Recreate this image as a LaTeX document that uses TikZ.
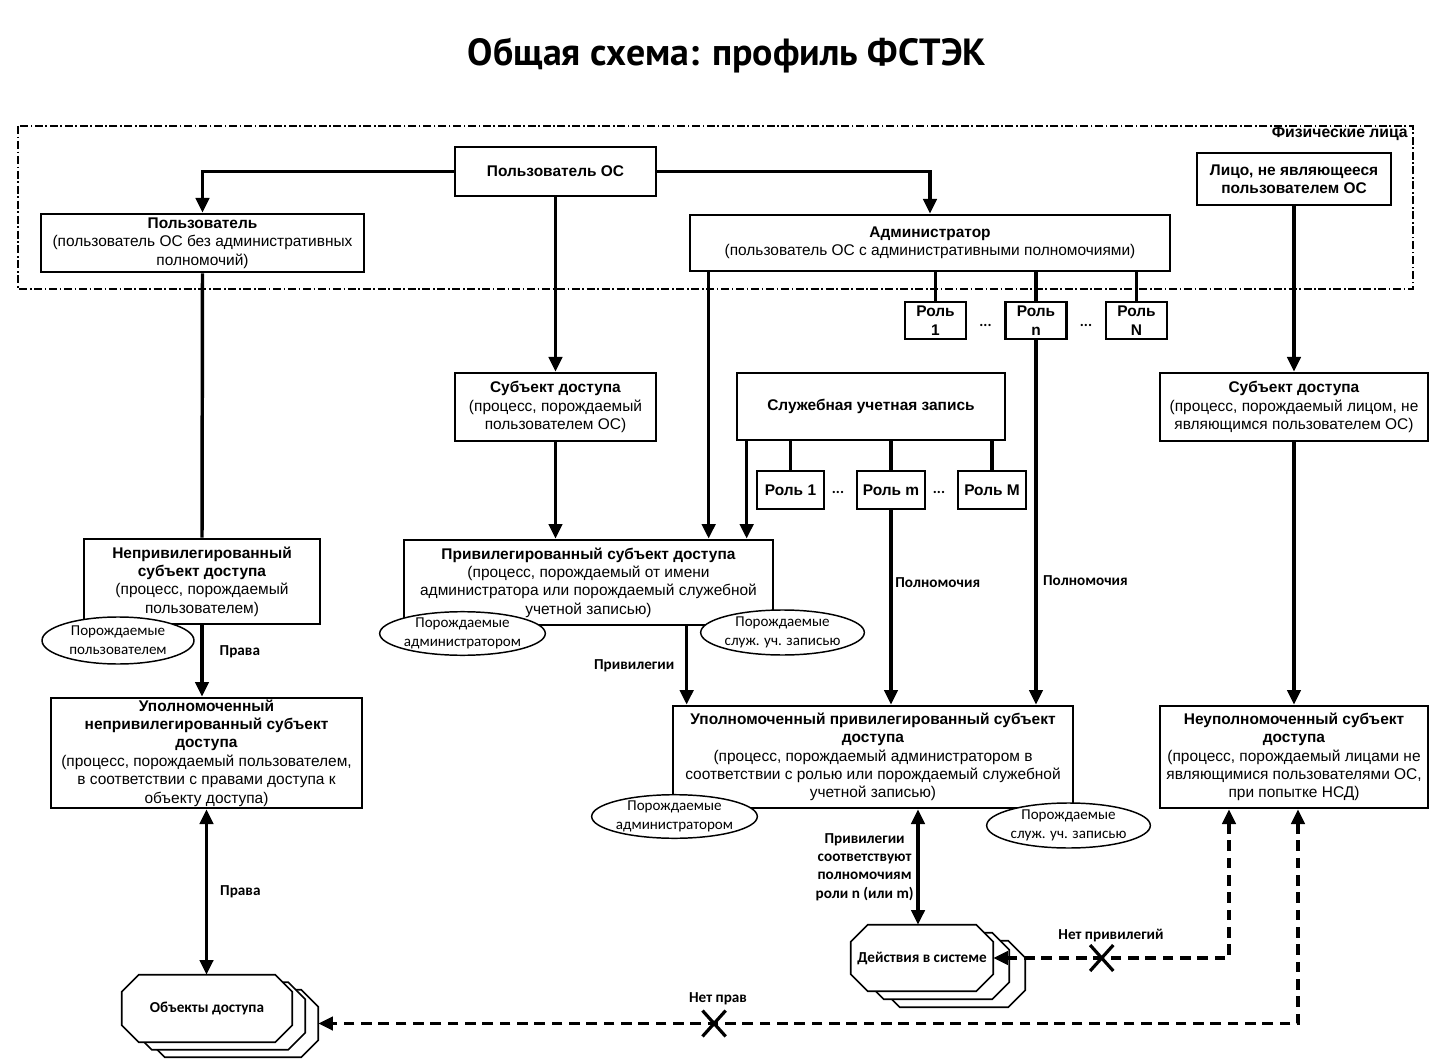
\documentclass[tikz,border=0pt]{standalone}
\usepackage{fontspec}
\setmainfont{Liberation Sans}
\newfontfamily\carlito{Carlito}
\newfontfamily\ptsans{PT Sans}
\usetikzlibrary{arrows.meta,calc,positioning,shapes.geometric,shapes.misc}
\pgfdeclarelayer{bg}
\pgfsetlayers{bg,main}

% octagon drawn round a named node (chamfer 17 units)
\newcommand\octdraw[1]{%
  \filldraw[octline] ($(#1.north west)+(17,0)$) -- ($(#1.north east)+(-17,0)$)
    -- ($(#1.north east)+(0,17)$) -- ($(#1.south east)+(0,-17)$)
    -- ($(#1.south east)+(-17,0)$) -- ($(#1.south west)+(17,0)$)
    -- ($(#1.south west)+(0,-17)$) -- ($(#1.north west)+(0,17)$) -- cycle;}

\begin{document}
\begin{tikzpicture}[x=0.75pt,y=-0.75pt,
  box/.style={draw,line width=2pt,fill=white,align=center,inner sep=0pt,
    font=\fontsize{11.6}{13.8}\selectfont},
  bsize/.style 2 args={minimum width=#1*0.75pt,minimum height=#2*0.75pt},
  ell/.style={ellipse,draw,line width=1.1pt,fill=white,align=center,inner sep=0pt,
    font=\carlito\fontsize{11.3}{14}\selectfont},
  octbox/.style={inner sep=0pt,font=\carlito\bfseries\fontsize{11.4}{13}\selectfont},
  octline/.style={draw=black,fill=white,line width=1.2pt},
  lbl/.style={font=\carlito\bfseries\fontsize{11.4}{13.8}\selectfont,align=center,inner sep=0pt},
  link/.style={line width=2.6pt},
  arr/.style={line width=2.6pt,-{Triangle[length=11pt,width=10pt]}},
  dblarr/.style={line width=2.6pt,{Triangle[length=11pt,width=10pt]}-{Triangle[length=11pt,width=10pt]}},
  nodbl/.style={line width=2.6pt,dash pattern=on 8pt off 5pt,
    {Triangle[length=11pt,width=10pt]}-{Triangle[length=11pt,width=10pt]}},
  xmark/.style={cross out,draw,solid,line width=2.4pt,minimum width=15pt,minimum height=17pt,inner sep=0pt},
  frame/.style={line width=0.9pt,dash pattern=on 6pt off 2pt on 1.2pt off 2pt}]

\begin{pgfonlayer}{bg}
\fill[white] (0,0) rectangle (1446,1062);
\end{pgfonlayer}
\useasboundingbox (0,0) rectangle (1446,1062);

\node[font=\ptsans\bfseries\fontsize{28.4}{32}\selectfont] (title) at (727,56) {Общая схема: профиль ФСТЭК};

% physical persons
\draw[frame] (18,126) rectangle (1413,289);
\node[font=\bfseries\fontsize{11.8}{13}\selectfont,anchor=east,inner sep=0pt] (physLbl) at (1408,134) {Физические лица};

\node[box,bsize={201}{49}] (userOS) at (555.5,171.5) {\textbf{Пользователь ОС}};
\node[box,bsize={323}{58}] (user) at (202.5,243) {\textbf{Пользователь}\\(пользователь ОС без административных\\полномочий)};
\node[box,bsize={480}{56}] (admin) at (930,243) {\textbf{Администратор}\\(пользователь ОС с административными полномочиями)};
\node[box,bsize={194}{52}] (person) at (1294,179) {\textbf{Лицо, не являющееся}\\\textbf{пользователем ОС}};

% roles of the administrator
\node[box,bsize={61}{37}] (r1) at (935.5,320.5) {\textbf{Роль}\\\textbf{1}};
\node[box,bsize={61}{37}] (rn) at (1036,320.5) {\textbf{Роль}\\\textbf{n}};
\node[box,bsize={61}{37}] (rN) at (1136.5,320.5) {\textbf{Роль}\\\textbf{N}};
\node[lbl] (rdots1) at (985.5,325) {...};
\node[lbl] (rdots2) at (1086,325) {...};

\node[box,bsize={201}{68}] (subj) at (555.5,407) {\textbf{Субъект доступа}\\(процесс, порождаемый\\пользователем ОС)};
\node[box,bsize={268}{67}] (service) at (871,406.5) {\textbf{Служебная учетная запись}};
\node[box,bsize={268}{68}] (personSubj) at (1294,407) {\textbf{Субъект доступа}\\(процесс, порождаемый лицом, не\\являющимся пользователем ОС)};

% roles of the service account
\node[box,bsize={67}{38}] (m1) at (790.5,490) {\textbf{Роль 1}};
\node[box,bsize={68}{38}] (mm) at (891,490) {\textbf{Роль m}};
\node[box,bsize={68}{38}] (mM) at (992,490) {\textbf{Роль M}};
\node[lbl] (mdots1) at (838,492) {...};
\node[lbl] (mdots2) at (939,492) {...};

\node[box,bsize={236}{85}] (unpriv) at (202,581.5) {\textbf{Непривилегированный}\\\textbf{субъект доступа}\\(процесс, порождаемый\\пользователем)};
\node[box,bsize={369}{85}] (priv) at (588.5,582.5) {\textbf{Привилегированный субъект доступа}\\(процесс, порождаемый от имени\\администратора или порождаемый служебной\\учетной записью)};

\node[box,bsize={311}{110}] (authUnpriv) at (206.5,753) {\textbf{Уполномоченный}\\\textbf{непривилегированный субъект}\\\textbf{доступа}\\(процесс, порождаемый пользователем,\\в соответствии с правами доступа к\\объекту доступа)};
\node[box,bsize={400}{102}] (authPriv) at (873,757) {\textbf{Уполномоченный привилегированный субъект}\\\textbf{доступа}\\(процесс, порождаемый администратором в\\соответствии с ролью или порождаемый служебной\\учетной записью)};
\node[box,bsize={268}{102}] (unauth) at (1294,757) {\textbf{Неуполномоченный субъект}\\\textbf{доступа}\\(процесс, порождаемый лицами не\\являющимися пользователями ОС,\\при попытке НСД)};

\node[ell,bsize={152}{47}] (ellU) at (118,640.5) {Порождаемые\\пользователем};
\node[ell,bsize={149}{43}] (ellPA) at (462.5,633.5) {Порождаемые\\администратором};
\node[ell,bsize={151}{45}] (ellPS) at (782.5,632.5) {Порождаемые\\служ. уч. записью};
\node[ell,bsize={155}{43}] (ellAA) at (674.5,816.5) {Порождаемые\\администратором};
\node[ell,bsize={153}{45}] (ellAS) at (1068.5,825.5) {Порождаемые\\служ. уч. записью};

% stacked objects and actions
\node[octbox,bsize={170}{67}] (objC) at (233,1023.5) {};
\node[octbox,bsize={170}{67}] (objB) at (220,1016) {};
\node[octbox,bsize={170}{67}] (obj) at (207,1008.5) {Объекты доступа};
\node[octbox,bsize={142}{66}] (actC) at (954,974) {};
\node[octbox,bsize={142}{66}] (actB) at (938,966) {};
\node[octbox,bsize={142}{66}] (act) at (922,958) {Действия в системе};
\begin{pgfonlayer}{bg}
\foreach \o in {objC,objB,obj,actC,actB,act} \octdraw{\o};
\end{pgfonlayer}

% connectors
\draw[arr] (userOS.west) -| (user.north);
\draw[arr] (userOS.east) -| (admin.north);
\draw[arr] (userOS.south) -- (subj.north);
\draw[link] (user.south) -- (unpriv.north);
\foreach \r in {r1,rn,rN} \draw[link] (admin.south -| \r.north) -- (\r.north);
\foreach \r in {m1,mm,mM} \draw[link] (service.south -| \r.north) -- (\r.north);
\draw[arr] (subj.south) -- (subj.south |- priv.north);
\draw[arr] ($(admin.south west)+(20,0)$) -- ($(priv.north west)+(306,0)$);
\draw[arr] ($(service.south west)+(11,0)$) -- ($(priv.north west)+(344,0)$);
\draw[arr] ($(priv.south west)+(284,0)$) -- ($(authPriv.north west)+(15,0)$)
  node[lbl,pos=0.5,left=8pt] (lblPriv) {Привилегии};
\draw[arr] (mm.south) -- (mm.south |- authPriv.north)
  node[lbl,pos=0.37,right=2pt] (lblPowM) {Полномочия};
\draw[arr] (rn.south) -- (rn.south |- authPriv.north)
  node[lbl,pos=0.66,right=4pt] (lblPowN) {Полномочия};
\draw[arr] (person.south) -- (personSubj.north);
\draw[arr] (personSubj.south) -- (unauth.north);
\draw[arr] (unpriv.south) -- (unpriv.south |- authUnpriv.north)
  node[lbl,pos=0.37,right=12pt] (lblRights1) {Права};
\draw[dblarr] (authUnpriv.south) -- (authUnpriv.south |- obj.north)
  node[lbl,pos=0.5,right=9pt] (lblRights2) {Права};
\coordinate (pa) at ($(authPriv.south)+(45,0)$);
\draw[dblarr] (pa) -- (pa |- act.north)
  node[lbl,pos=0.5,left=2pt] (lblMatch) {Привилегии\\соответствуют\\полномочиям\\роли n (или m)};

\draw[nodbl] ([xshift=-48.75pt]unauth.south) |- (act.east)
  node[xmark,pos=0.77] (xPriv) {};
\node[lbl,above=2pt of xPriv,xshift=7pt] (lblNoPriv) {Нет привилегий};
\draw[nodbl] ([xshift=3pt]unauth.south) |- (objC.east)
  node[xmark,pos=0.798] (xRights) {};
\node[lbl,above=4pt of xRights,xshift=3pt] (lblNoRights) {Нет прав};

\end{tikzpicture}
\end{document}
